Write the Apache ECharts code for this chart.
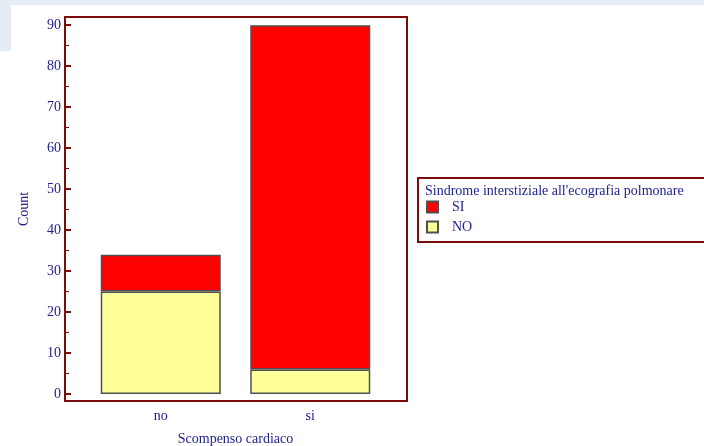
<!DOCTYPE html>
<html>
<head>
<meta charset="utf-8">
<script src="https://cdn.jsdelivr.net/npm/echarts@6/dist/echarts.min.js"></script>
<style>
  html, body { margin: 0; padding: 0; background: #ffffff; }
  #chart { width: 704px; height: 446px; }
</style>
</head>
<body>
<div id="chart"></div>
<script>
// Scompenso cardiaco vs. sindrome interstiziale (ecografia polmonare)
const categories = ['no', 'si'];
const countNO = [25, 6];
const countSI = [9, 84];
const majorTicks = [0, 10, 20, 30, 40, 50, 60, 70, 80, 90];
const minorTicks = [5, 15, 25, 35, 45, 55, 65, 75, 85];
const legendTitle = "Sindrome interstiziale all'ecografia polmonare";

const FRAME = '#7a0c0c';
const TEXT = '#22228f';
const SERIF = '"Liberation Serif", "DejaVu Serif", serif';
const yMin = -1.7, yMax = 92;

const chart = echarts.init(document.getElementById('chart'), null, { renderer: 'canvas' });

chart.setOption({
  backgroundColor: '#ffffff',
  animation: false,
  graphic: [
    { type: 'rect', z: -10, shape: { x: 0, y: 0, width: 704, height: 5 }, style: { fill: '#e6ecf5' } },
    { type: 'rect', z: -10, shape: { x: 0, y: 0, width: 11, height: 51 }, style: { fill: '#e6ecf5' } }
  ],
  title: {
    text: legendTitle,
    left: 425, top: 184, padding: 0,
    textStyle: { fontFamily: SERIF, fontSize: 14, fontWeight: 'normal', color: TEXT }
  },
  legend: {
    data: ['SI', 'NO'],
    orient: 'vertical',
    left: 426, top: 200, padding: 0,
    itemWidth: 11, itemHeight: 11, itemGap: 6,
    icon: 'rect',
    textStyle: { fontFamily: SERIF, fontSize: 14, color: TEXT, padding: [0, 0, 0, 9] }
  },
  grid: [
    // plot frame
    { left: 65, top: 17, width: 342, height: 384, outerBoundsMode: 'none', containLabel: false,
      show: true, borderColor: FRAME, borderWidth: 2, backgroundColor: 'transparent' },
    // bar area
    { left: 86, top: 17, width: 299, height: 384, outerBoundsMode: 'none', containLabel: false },
    // legend box
    { left: 418, top: 178, width: 300, height: 64, outerBoundsMode: 'none', containLabel: false,
      show: true, borderColor: FRAME, borderWidth: 2, backgroundColor: 'transparent' }
  ],
  xAxis: [{
    type: 'category',
    gridIndex: 1,
    data: categories,
    axisLine: { show: false },
    axisTick: { show: false },
    axisLabel: { margin: 8, fontFamily: SERIF, fontSize: 14, color: TEXT },
    name: 'Scompenso cardiaco',
    nameLocation: 'middle',
    nameGap: 31,
    nameTextStyle: { fontFamily: SERIF, fontSize: 14, color: TEXT }
  }],
  yAxis: [{
    type: 'value',
    gridIndex: 1,
    position: 'left',
    offset: 21,
    min: yMin, max: yMax,
    axisLine: { show: false },
    splitLine: { show: false },
    axisTick: { show: true, inside: true, length: 6, customValues: majorTicks, lineStyle: { color: FRAME, width: 2 } },
    axisLabel: { customValues: majorTicks, margin: 4, fontFamily: SERIF, fontSize: 14, color: TEXT },
    name: 'Count',
    nameLocation: 'middle',
    nameGap: 34,
    nameTextStyle: { fontFamily: SERIF, fontSize: 14, color: TEXT }
  }, {
    type: 'value',
    gridIndex: 1,
    position: 'left',
    offset: 21,
    min: yMin, max: yMax,
    axisLine: { show: false },
    splitLine: { show: false },
    axisLabel: { show: false },
    axisTick: { show: true, inside: true, length: 4, customValues: minorTicks, lineStyle: { color: FRAME, width: 1 } }
  }],
  series: [{
    name: 'NO',
    type: 'bar',
    xAxisIndex: 0, yAxisIndex: 0,
    stack: 'tot',
    barWidth: 120,
    data: countNO,
    itemStyle: { color: '#ffff99', borderColor: '#505050', borderWidth: 1.5 }
  }, {
    name: 'SI',
    type: 'bar',
    xAxisIndex: 0, yAxisIndex: 0,
    stack: 'tot',
    barWidth: 120,
    data: countSI,
    itemStyle: { color: '#ff0000', borderColor: '#505050', borderWidth: 1.5 }
  }]
});
</script>
</body>
</html>
